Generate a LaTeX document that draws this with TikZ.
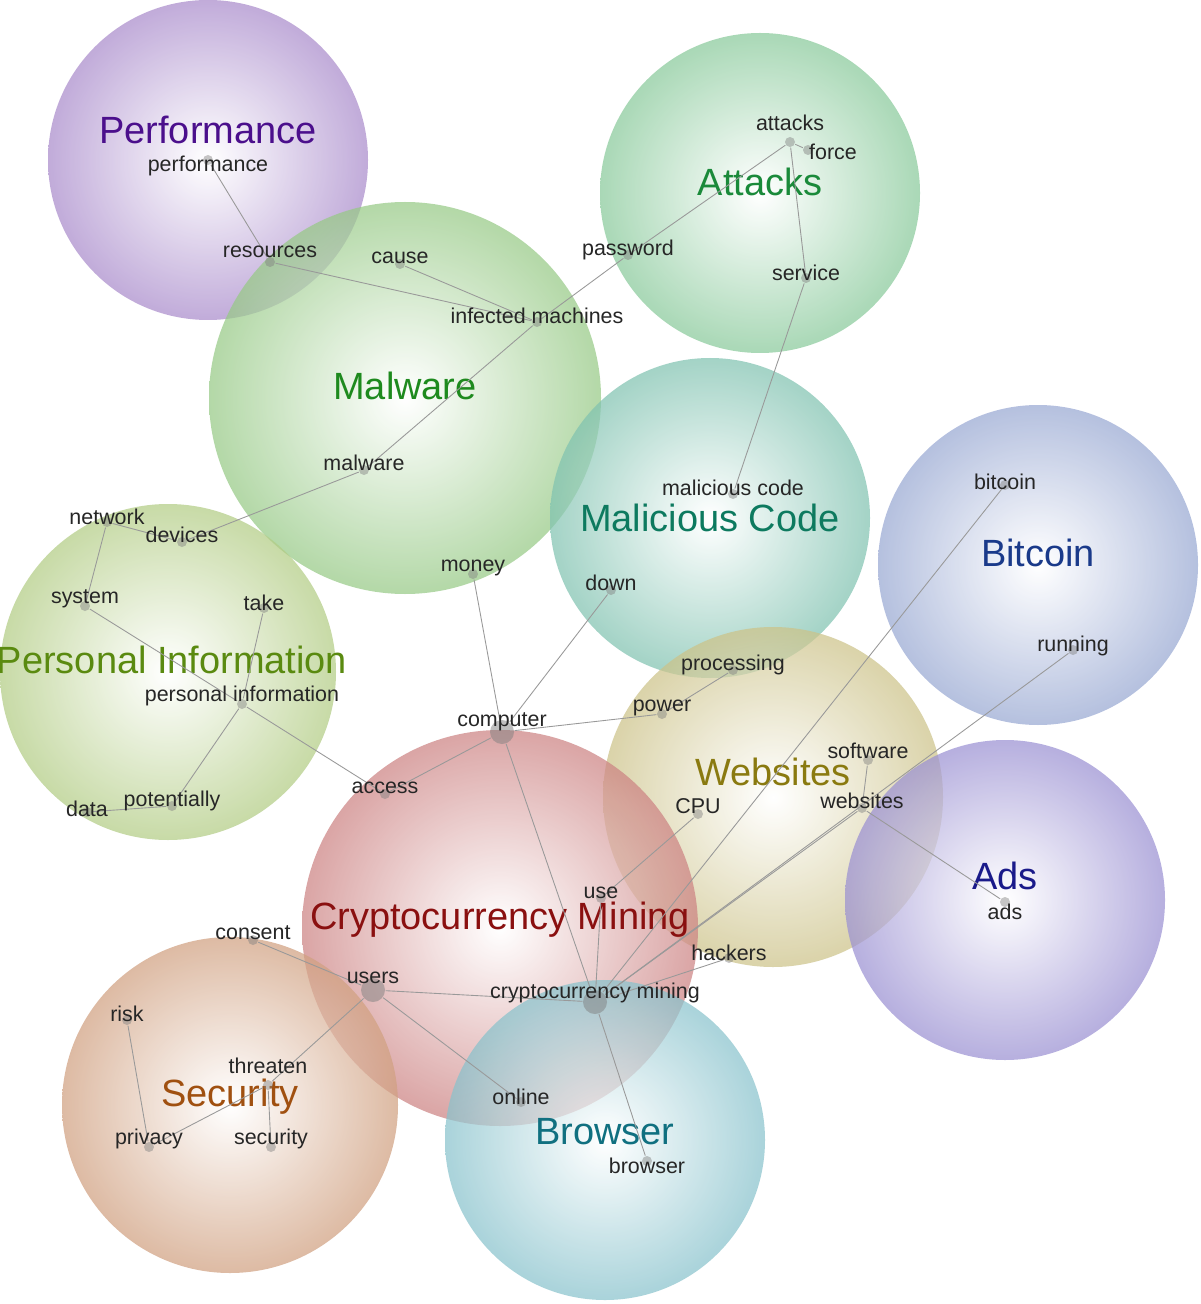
\documentclass[tikz,border=0pt]{standalone}
\usepackage{fontspec}
\setmainfont{Liberation Sans}
\begin{document}
\begin{tikzpicture}[x=0.1mm,y=-0.1mm,
  theme/.style={font=\fontsize{10.8}{12}\selectfont, inner sep=0pt},
  concept/.style={font=\fontsize{6.1}{7}\selectfont, text=black!85, inner sep=0pt},
  dot/.style={circle, fill=gray, fill opacity=0.45, inner sep=0pt, minimum size=1mm},
  bigdot/.style={circle, fill=gray, fill opacity=0.5, inner sep=0pt, minimum size=2.4mm},
  edge/.style={draw=gray!80, line width=0.25pt}]
\useasboundingbox (0,0) rectangle (1200,1304);
\newcommand{\bub}[4]{\shade[inner color=white, outer color=#4, opacity=0.72] (#1,#2) circle (#3);}
\definecolor{cPerf}{HTML}{A98BCB}
\definecolor{cAtt}{HTML}{88C99A}
\definecolor{cMal}{HTML}{96C985}
\definecolor{cMC}{HTML}{80C2B0}
\definecolor{cBit}{HTML}{98A8D2}
\definecolor{cPI}{HTML}{B2CC84}
\definecolor{cWeb}{HTML}{CCC288}
\definecolor{cAds}{HTML}{9A90D2}
\definecolor{cCry}{HTML}{CC8282}
\definecolor{cSec}{HTML}{D0A080}
\definecolor{cBro}{HTML}{88C2CC}
\bub{208}{160}{160}{cPerf}
\bub{760}{193}{160}{cAtt}
\bub{405}{398}{196}{cMal}
\bub{710}{518}{160}{cMC}
\bub{1038}{565}{160}{cBit}
\bub{168}{672}{168}{cPI}
\bub{773}{797}{170}{cWeb}
\bub{1005}{900}{160}{cAds}
\bub{500}{928}{198}{cCry}
\bub{230}{1105}{168}{cSec}
\bub{605}{1140}{160}{cBro}
% theme labels
\node[theme] (tPerf) at (208,130) {\color[HTML]{4B0F8C}Performance};
\node[theme] (tAtt) at (760,182) {\color[HTML]{1A8A3A}Attacks};
\node[theme] (tMal) at (405,386) {\color[HTML]{1E8A1E}Malware};
\node[theme] (tMC) at (710,518) {\color[HTML]{0D7A5F}Malicious Code};
\node[theme] (tBit) at (1038,553) {\color[HTML]{1A3A8A}Bitcoin};
\node[theme] (tPI) at (172,660) {\color[HTML]{5A8A10}Personal Information};
\node[theme] (tWeb) at (773,772) {\color[HTML]{8A7A10}Websites};
\node[theme] (tAds) at (1005,876) {\color[HTML]{1A1A8A}Ads};
\node[theme] (tCry) at (500,920) {\color[HTML]{8A1010}Cryptocurrency Mining};
\node[theme] (tSec) at (230,1097) {\color[HTML]{A05010}Security};
\node[theme] (tBro) at (605,1132) {\color[HTML]{107080}Browser};
% dots
\foreach \n/\x/\y in {performance/208/160, resources/270/262, cause/400/264, infected/537/322, password/628/255,
  attacks/790/142, force/808/150, service/806/278, malware/364/470, maliciouscode/733/494,
  network/107/522, devices/182/542, system/85/606, take/264/608, personal/242/704,
  data/87/812, potentially/172/806, money/473/574, down/611/590, bitcoin/1005/485,
  running/1073/650, processing/733/670, power/662/714, access/385/794,
  software/868/760, websites/862/808, CPU/698/814, use/601/898, ads/1005/902,
  consent/253/940, hackers/729/958, risk/127/1020, threaten/268/1085, online/521/1102,
  privacy/149/1147, security/271/1147, browser/647/1161}
  \node[dot] (\n) at (\x,\y) {};
\node[bigdot] (computer) at (502,732) {};
\node[bigdot] (users) at (373,990) {};
\node[bigdot] (cmining) at (595,1002) {};
% edges
\foreach \a/\b in {performance/resources, resources/infected, cause/infected, infected/password,
  password/attacks, attacks/force, attacks/service, service/maliciouscode, infected/malware,
  malware/devices, network/devices, network/system, system/personal, personal/access,
  take/personal, personal/potentially, potentially/data, money/computer, down/computer,
  computer/power, power/processing, computer/access, computer/cmining, cmining/users,
  cmining/use, use/CPU, cmining/hackers, cmining/websites, cmining/bitcoin, cmining/running,
  websites/software, websites/ads, cmining/browser, users/online, users/threaten, users/consent,
  threaten/security, threaten/privacy, risk/privacy}
  \draw[edge] (\a) -- (\b);
% concept labels
\node[concept] at (208,166) {performance};
\node[concept] at (270,252) {resources};
\node[concept] at (400,258) {cause};
\node[concept] at (537,316) {infected machines};
\node[concept] at (628,250) {password};
\node[concept] at (790,123) {attacks};
\node[concept] at (833,152) {force};
\node[concept] at (806,273) {service};
\node[concept] at (364,463) {malware};
\node[concept] at (733,488) {malicious code};
\node[concept] at (107,517) {network};
\node[concept] at (182,535) {devices};
\node[concept] at (85,599) {system};
\node[concept] at (264,603) {take};
\node[concept] at (242,696) {personal information};
\node[concept] at (87,809) {data};
\node[concept] at (172,801) {potentially};
\node[concept] at (473,568) {money};
\node[concept] at (611,583) {down};
\node[concept] at (1005,482) {bitcoin};
\node[concept] at (1073,646) {running};
\node[concept] at (733,665) {processing};
\node[concept] at (662,708) {power};
\node[concept] at (502,722) {computer};
\node[concept] at (385,788) {access};
\node[concept] at (868,751) {software};
\node[concept] at (862,801) {websites};
\node[concept] at (698,806) {CPU};
\node[concept] at (601,893) {use};
\node[concept] at (1005,912) {ads};
\node[concept] at (253,933) {consent};
\node[concept] at (373,978) {users};
\node[concept] at (729,953) {hackers};
\node[concept] at (595,993) {cryptocurrency mining};
\node[concept] at (127,1014) {risk};
\node[concept] at (268,1066) {threaten};
\node[concept] at (521,1097) {online};
\node[concept] at (149,1139) {privacy};
\node[concept] at (271,1139) {security};
\node[concept] at (647,1166) {browser};
\end{tikzpicture}
\end{document}
